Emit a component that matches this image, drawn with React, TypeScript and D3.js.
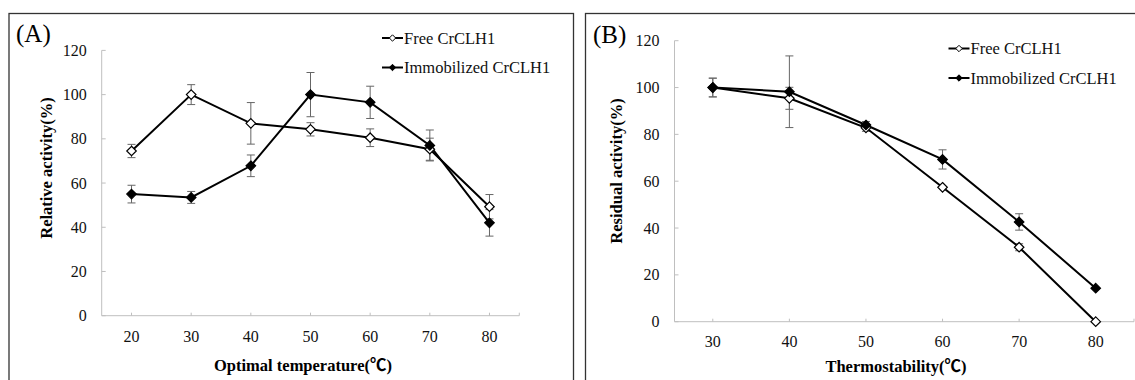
import React from 'react';
import * as d3 from 'd3';

// Panel A: optimal temperature
const tempA = ['20', '30', '40', '50', '60', '70', '80'];
const freeA = [74.5, 100, 87, 84.3, 80.5, 75.3, 49.3];
const freeAErr = [3, 4.5, 9.4, 3, 4, 5, 5.5];
const immoA = [55, 53.5, 67.8, 100, 96.5, 77, 42];
const immoAErr = [4, 2.7, 4.9, 10, 7.3, 7, 6];

// Panel B: thermostability
const tempB = ['30', '40', '50', '60', '70', '80'];
const freeB = [100, 95.4, 82.8, 57.4, 31.8, 0];
const freeBErr = [4, 4.7, 1.5, 0, 1.5, 0];
const immoB = [100, 98.2, 84, 69.3, 42.6, 14.3];
const immoBErr = [4, 15.3, 1.5, 4.1, 3.5, 0];

const yTicks = [0, 20, 40, 60, 80, 100, 120];
const legendNames = ['Free CrCLH1', 'Immobilized CrCLH1'];

const FONT = '"Liberation Serif", "Noto Sans CJK SC", serif';
const AXIS = '#bfbfbf';

const diamond = d3.symbol().type(d3.symbolDiamond2).size(58)();
const diamondSmall = d3.symbol().type(d3.symbolDiamond2).size(26)();

type PanelProps = {
  frame: [number, number, number, number];
  x0: number; x1: number; y0: number; y1: number;
  cats: string[];
  series: { values: number[]; errs: number[]; filled: boolean }[];
  label: string; labelPos: [number, number];
  yTitle: string; yTitlePos: [number, number];
  xTitle: string; xTitlePos: [number, number];
  legendPos: [number, number];
  xLabelDy: number;
};

const Panel = (p: PanelProps) => {
  const x = d3.scalePoint<string>().domain(p.cats).range([p.x0, p.x1]).padding(0.5);
  const y = d3.scaleLinear().domain([0, 120]).range([p.y0, p.y1]);
  const line = d3.line<number>().x((_, i) => x(p.cats[i]) as number).y((d) => y(d));
  const [fx, fy, fw, fh] = p.frame;
  return (
    <g>
      <rect x={fx} y={fy} width={fw} height={fh} fill="white" stroke="#333" strokeWidth={1.3} />
      <text x={p.labelPos[0]} y={p.labelPos[1]} fontSize={25} fontFamily={FONT}>{p.label}</text>
      {/* y axis */}
      <line x1={p.x0} x2={p.x0} y1={p.y0} y2={p.y1} stroke={AXIS} />
      {yTicks.map((t) => (
        <g key={t}>
          <line x1={p.x0} x2={p.x0 + 4} y1={y(t)} y2={y(t)} stroke={AXIS} />
          <text x={p.x0 - 15} y={y(t)} dy="0.35em" textAnchor="end" fontSize={16} fontFamily={FONT} fill="#111">{t}</text>
        </g>
      ))}
      {/* x axis */}
      <line x1={p.x0} x2={p.x1} y1={p.y0} y2={p.y0} stroke={AXIS} />
      {p.cats.map((c) => (
        <g key={c}>
          <line x1={x(c)} x2={x(c)} y1={p.y0 - 3} y2={p.y0} stroke={AXIS} />
          <text x={x(c)} y={p.y0 + p.xLabelDy} textAnchor="middle" fontSize={16} fontFamily={FONT} fill="#111">{c}</text>
        </g>
      ))}
      <line x1={p.x1} x2={p.x1} y1={p.y0 - 3} y2={p.y0} stroke={AXIS} />
      {/* titles */}
      <text transform={`translate(${p.yTitlePos[0]},${p.yTitlePos[1]}) rotate(-90)`} textAnchor="middle" fontSize={16.5} fontWeight="bold" fontFamily={FONT}>{p.yTitle}</text>
      <text x={p.xTitlePos[0]} y={p.xTitlePos[1]} textAnchor="middle" fontSize={16.5} fontWeight="bold" fontFamily={FONT}>{p.xTitle}</text>
      {/* error bars */}
      {p.series.map((s, si) => s.values.map((v, i) => {
        const e = s.errs[i];
        if (!e) return null;
        const cx = x(p.cats[i]) as number;
        return (
          <g key={`e${si}-${i}`} stroke="#666" strokeWidth={1}>
            <line x1={cx} x2={cx} y1={y(v + e)} y2={y(v - e)} />
            <line x1={cx - 4} x2={cx + 4} y1={y(v + e)} y2={y(v + e)} />
            <line x1={cx - 4} x2={cx + 4} y1={y(v - e)} y2={y(v - e)} />
          </g>
        );
      }))}
      {/* lines */}
      {p.series.map((s, si) => (
        <path key={`l${si}`} d={line(s.values) ?? ''} fill="none" stroke="#000" strokeWidth={2} />
      ))}
      {/* markers */}
      {p.series.map((s, si) => s.values.map((v, i) => (
        <path key={`m${si}-${i}`} d={diamond ?? ''} transform={`translate(${x(p.cats[i])},${y(v)})`}
          fill={s.filled ? '#000' : '#fff'} stroke="#000" strokeWidth={1.2} />
      )))}
      {/* legend */}
      {legendNames.map((n, i) => {
        const lx = p.legendPos[0];
        const ly = p.legendPos[1] + i * 29.5;
        return (
          <g key={n}>
            <line x1={lx} x2={lx + 21} y1={ly - 5.5} y2={ly - 5.5} stroke="#000" strokeWidth={2} />
            <path d={diamondSmall ?? ''} transform={`translate(${lx + 10.5},${ly - 5.5})`}
              fill={i === 1 ? '#000' : '#fff'} stroke="#000" strokeWidth={1} />
            <text x={lx + 22} y={ly} fontSize={16.5} fontFamily={FONT} fill="#111">{n}</text>
          </g>
        );
      })}
    </g>
  );
};

export default function App() {
  return (
    <svg width={1135} height={380} style={{ position: 'absolute', left: 0, top: 0, background: 'white' }}>
      <Panel
        frame={[9, 13.5, 564.5, 400]}
        x0={101.7} x1={519.3} y0={315.7} y1={50.4}
        cats={tempA}
        series={[
          { values: freeA, errs: freeAErr, filled: false },
          { values: immoA, errs: immoAErr, filled: true },
        ]}
        label="(A)" labelPos={[16, 42]}
        yTitle="Relative activity(%)" yTitlePos={[52, 168]}
        xTitle="Optimal temperature(℃)" xTitlePos={[303, 371]}
        legendPos={[382, 43.5]}
        xLabelDy={26.5}
      />
      <Panel
        frame={[585.5, 13.5, 600, 400]}
        x0={674.5} x1={1134} y0={321.7} y1={40.7}
        cats={tempB}
        series={[
          { values: freeB, errs: freeBErr, filled: false },
          { values: immoB, errs: immoBErr, filled: true },
        ]}
        label="(B)" labelPos={[593, 43]}
        yTitle="Residual activity(%)" yTitlePos={[622, 171]}
        xTitle="Thermostability(℃)" xTitlePos={[896, 372]}
        legendPos={[948.5, 54]}
        xLabelDy={25.6}
      />
    </svg>
  );
}
